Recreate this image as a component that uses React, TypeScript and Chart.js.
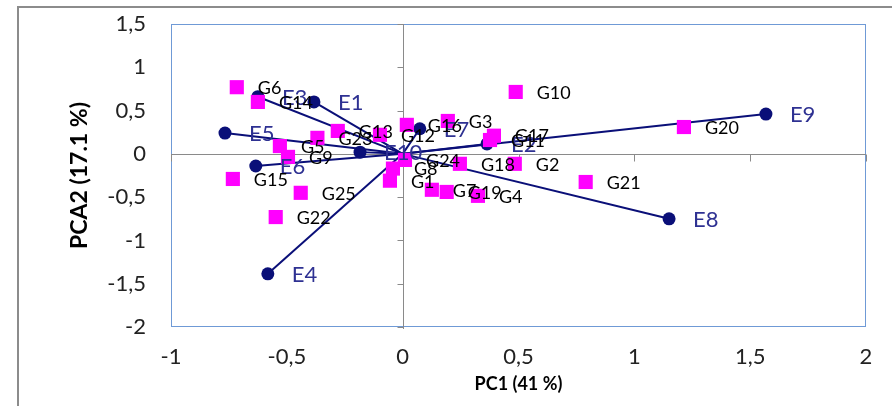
import React, { useEffect, useRef } from 'react';
import { Chart, registerables } from 'chart.js';

Chart.register(...registerables);

// Environment vectors (biplot arrows from origin)
const envLabels = ['E1', 'E2', 'E3', 'E4', 'E5', 'E6', 'E7', 'E8', 'E9', 'E10'];
const envX = [-0.383, 0.364, -0.625, -0.582, -0.767, -0.634, 0.074, 1.15, 1.568, -0.184];
const envY = [0.6, 0.115, 0.66, -1.386, 0.24, -0.14, 0.29, -0.75, 0.46, 0.02];

// Genotype scores
const genLabels = [
  'G1', 'G2', 'G3', 'G4', 'G5', 'G6', 'G7', 'G8', 'G9', 'G10',
  'G11', 'G12', 'G13', 'G14', 'G15', 'G16', 'G17', 'G18', 'G19', 'G20',
  'G21', 'G22', 'G23', 'G24', 'G25',
];
const genX = [
  -0.055, 0.484, 0.195, 0.325, -0.53, -0.716, 0.126, -0.042, -0.495, 0.488,
  0.377, -0.098, -0.28, -0.625, -0.733, 0.018, 0.394, 0.247, 0.19, 1.214,
  0.79, -0.548, -0.368, 0.01, -0.44,
];
const genY = [
  -0.31, -0.115, 0.38, -0.485, 0.09, 0.77, -0.415, -0.17, -0.035, 0.715,
  0.16, 0.22, 0.265, 0.6, -0.29, 0.335, 0.21, -0.115, -0.44, 0.31,
  -0.325, -0.73, 0.185, -0.07, -0.45,
];

const xTicks = [-1, -0.5, 0, 0.5, 1, 1.5, 2];
const yTicks = [-2, -1.5, -1, -0.5, 0, 0.5, 1, 1.5];
const xTitle = 'PC1 (41 %)';
const yTitle = 'PCA2 (17.1 %)';

const FONT = 'Lato, "Open Sans", sans-serif';
const fmt = (v: number) => String(v).replace('.', ',');

const framePlugin = {
  id: 'frame',
  beforeDatasetsDraw(chart: any) {
    const { ctx, chartArea: a, scales } = chart;
    const xs = scales.x;
    const ys = scales.y;
    ctx.save();
    // outer border
    ctx.strokeStyle = '#8c8c8c';
    ctx.lineWidth = 2;
    ctx.beginPath();
    ctx.moveTo(18, 406);
    ctx.lineTo(18, 7);
    ctx.lineTo(892, 7);
    ctx.stroke();
    // plot area border
    ctx.strokeStyle = '#6f9ad6';
    ctx.lineWidth = 1;
    ctx.strokeRect(a.left + 0.5, a.top + 0.5, a.right - a.left - 1, a.bottom - a.top - 1);
    // zero axes
    const x0 = Math.round(xs.getPixelForValue(0)) + 0.5;
    const y0 = Math.round(ys.getPixelForValue(0)) + 0.5;
    ctx.strokeStyle = '#8a8a8a';
    ctx.beginPath();
    ctx.moveTo(x0, a.top);
    ctx.lineTo(x0, a.bottom + 2);
    ctx.moveTo(a.left, y0);
    ctx.lineTo(a.right, y0);
    yTicks.forEach((t) => {
      const py = Math.round(ys.getPixelForValue(t)) + 0.5;
      ctx.moveTo(x0 - 6, py);
      ctx.lineTo(x0, py);
    });
    xTicks.forEach((t) => {
      const px = Math.round(xs.getPixelForValue(t)) + 0.5;
      ctx.moveTo(px, y0);
      ctx.lineTo(px, y0 + 7);
    });
    ctx.stroke();
    ctx.restore();
  },
  afterDatasetsDraw(chart: any) {
    const { ctx, scales } = chart;
    const xs = scales.x;
    const ys = scales.y;
    ctx.save();
    ctx.textAlign = 'left';
    ctx.textBaseline = 'middle';
    ctx.font = `22px ${FONT}`;
    ctx.fillStyle = '#2e3192';
    envLabels.forEach((l, i) => {
      ctx.fillText(l, xs.getPixelForValue(envX[i]) + 24, ys.getPixelForValue(envY[i]) + 1);
    });
    ctx.font = `18px ${FONT}`;
    ctx.fillStyle = '#000';
    genLabels.forEach((l, i) => {
      ctx.fillText(l, xs.getPixelForValue(genX[i]) + 21, ys.getPixelForValue(genY[i]) + 1);
    });
    ctx.restore();
  },
  afterDraw(chart: any) {
    const { ctx, chartArea: a } = chart;
    ctx.save();
    ctx.fillStyle = '#000';
    ctx.textAlign = 'center';
    ctx.textBaseline = 'middle';
    ctx.font = `bold 18px ${FONT}`;
    ctx.fillText(xTitle, (a.left + a.right) / 2, 384);
    ctx.font = `bold 23px ${FONT}`;
    ctx.translate(80, (a.top + a.bottom) / 2);
    ctx.rotate(-Math.PI / 2);
    ctx.fillText(yTitle, 0, 0);
    ctx.restore();
  },
};

export default function App() {
  const ref = useRef<HTMLCanvasElement>(null);
  useEffect(() => {
    if (!ref.current) return;
    const datasets: any[] = [
      {
        label: 'G',
        data: genX.map((x, i) => ({ x, y: genY[i] })),
        pointStyle: 'rect',
        pointRadius: 10,
        pointBackgroundColor: '#ff00ff',
        pointBorderWidth: 0,
        showLine: false,
      },
      ...envLabels.map((l, i) => ({
        label: l,
        data: [
          { x: 0, y: 0 },
          { x: envX[i], y: envY[i] },
        ],
        showLine: true,
        borderColor: '#0a0f78',
        borderWidth: 2,
        pointRadius: [0, 6.5],
        pointBackgroundColor: '#0a0f78',
        pointBorderWidth: 0,
      })),
    ];
    const chart = new Chart(ref.current, {
      type: 'scatter',
      data: { datasets },
      options: {
        animation: false,
        responsive: false,
        devicePixelRatio: 1,
        layout: { padding: { left: 0, top: 24, right: 26, bottom: 0 } },
        plugins: { legend: { display: false }, tooltip: { enabled: false } },
        scales: {
          x: {
            type: 'linear',
            min: -1,
            max: 2,
            afterBuildTicks: (s: any) => {
              s.ticks = xTicks.map((v) => ({ value: v }));
            },
            afterFit: (s: any) => {
              s.height = 79;
              s.paddingLeft = 0;
              s.paddingRight = 0;
            },
            ticks: {
              callback: (v: any) => fmt(Number(v)),
              font: { family: FONT, size: 22 },
              color: '#222',
              padding: 17,
              maxRotation: 0,
              autoSkip: false,
            },
            grid: { display: false, drawTicks: false },
            border: { display: false },
          },
          y: {
            type: 'linear',
            min: -2,
            max: 1.5,
            afterBuildTicks: (s: any) => {
              s.ticks = yTicks.map((v) => ({ value: v }));
            },
            afterFit: (s: any) => {
              s.width = 171;
              s.paddingTop = 0;
              s.paddingBottom = 0;
            },
            ticks: {
              callback: (v: any) => fmt(Number(v)),
              font: { family: FONT, size: 22 },
              color: '#222',
              padding: 25,
              autoSkip: false,
            },
            grid: { display: false, drawTicks: false },
            border: { display: false },
          },
        },
      },
      plugins: [framePlugin],
    });
    return () => chart.destroy();
  }, []);
  return (
    <div style={{ position: 'absolute', left: 0, top: 0, width: 892, height: 406, background: '#fff' }}>
      <canvas ref={ref} width={892} height={406} style={{ width: 892, height: 406 }} />
    </div>
  );
}
